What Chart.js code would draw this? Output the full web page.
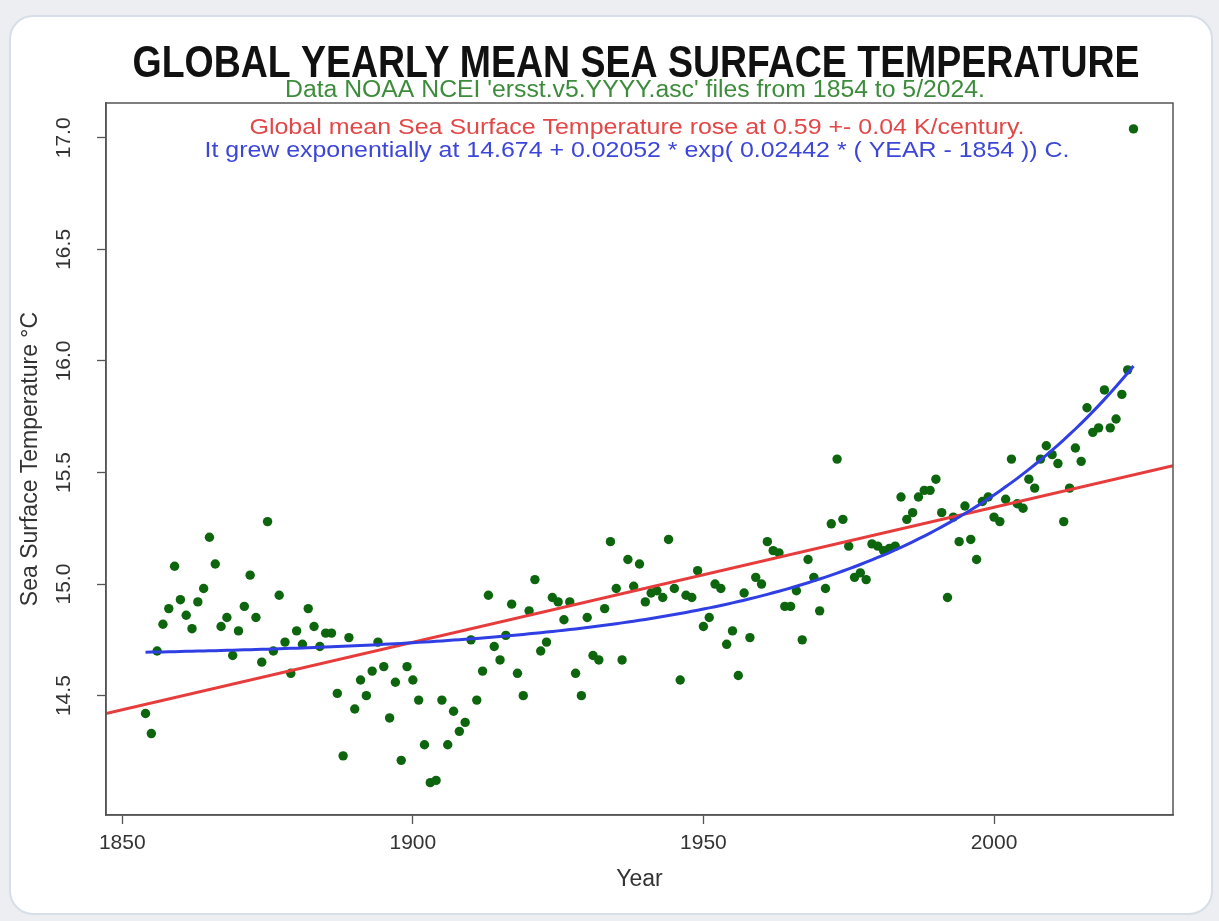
<!DOCTYPE html>
<html lang="en">
  <head>
    <meta charset="UTF-8" />
    <title>Global Yearly Mean Sea Surface Temperature</title>
    <script src="https://cdn.jsdelivr.net/npm/chart.js"></script>
    <style>
      body {
        margin: 0;
        background: #eceef1;
      }
      .card {
        position: absolute;
        left: 9px;
        top: 15px;
        width: 1200px;
        height: 896px;
        border: 2px solid #d6dee7;
        border-radius: 24px;
        background: #fff;
      }
      #wrap {
        position: absolute;
        left: 0;
        top: 0;
      }
    </style>
  </head>
  <body>
    <div class="card"></div>
    <div id="wrap"><canvas id="sst" width="1219" height="921"></canvas></div>

    <script>
      // yearly global mean SST (deg C), one value per year from 1854
      const firstYear = 1854;
      const sstValues = [
        14.42, 14.33, 14.70, 14.82, 14.89, 15.08, // 1854-1859
        14.93, 14.86, 14.80, 14.92, 14.98, 15.21, 15.09, 14.81, 14.85, 14.68, // 1860s
        14.79, 14.90, 15.04, 14.85, 14.65, 15.28, 14.70, 14.95, 14.74, 14.60, // 1870s
        14.79, 14.73, 14.89, 14.81, 14.72, 14.78, 14.78, 14.51, 14.23, 14.76, // 1880s
        14.44, 14.57, 14.50, 14.61, 14.74, 14.63, 14.40, 14.56, 14.21, 14.63, // 1890s
        14.57, 14.48, 14.28, 14.11, 14.12, 14.48, 14.28, 14.43, 14.34, 14.38, // 1900s
        14.75, 14.48, 14.61, 14.95, 14.72, 14.66, 14.77, 14.91, 14.60, 14.50, // 1910s
        14.88, 15.02, 14.70, 14.74, 14.94, 14.92, 14.84, 14.92, 14.60, 14.50, // 1920s
        14.85, 14.68, 14.66, 14.89, 15.19, 14.98, 14.66, 15.11, 14.99, 15.09, // 1930s
        14.92, 14.96, 14.97, 14.94, 15.20, 14.98, 14.57, 14.95, 14.94, 15.06, // 1940s
        14.81, 14.85, 15.00, 14.98, 14.73, 14.79, 14.59, 14.96, 14.76, 15.03, // 1950s
        15.00, 15.19, 15.15, 15.14, 14.90, 14.90, 14.97, 14.75, 15.11, 15.03, // 1960s
        14.88, 14.98, 15.27, 15.56, 15.29, 15.17, 15.03, 15.05, 15.02, 15.18, // 1970s
        15.17, 15.15, 15.16, 15.17, 15.39, 15.29, 15.32, 15.39, 15.42, 15.42, // 1980s
        15.47, 15.32, 14.94, 15.30, 15.19, 15.35, 15.20, 15.11, 15.37, 15.39, // 1990s
        15.30, 15.28, 15.38, 15.56, 15.36, 15.34, 15.47, 15.43, 15.56, 15.62, // 2000s
        15.58, 15.54, 15.28, 15.43, 15.61, 15.55, 15.79, 15.68, 15.70, 15.87, // 2010s
        15.70, 15.74, 15.85, 15.96, 17.04 // 2020-2024
      ];
      const years = sstValues.map((_, i) => firstYear + i);

      // linear trend line, end points
      const trendYears = [1847.2, 2030.8];
      const trendValues = [14.42, 15.53];

      // exponential fit constants (from the blue caption)
      const expBase = 14.674;
      const expAmp = 0.02052;
      const expRate = 0.02442;

      const xTicks = [1850, 1900, 1950, 2000];
      const yTicks = [14.5, 15.0, 15.5, 16.0, 16.5, 17.0];

      const axisFont = "'Liberation Sans', Arial, sans-serif";

      // draw a line of text squeezed/stretched to a given width
      function fitText(ctx, text, cx, baseline, width, font, color) {
        ctx.save();
        ctx.font = font;
        const w = ctx.measureText(text).width;
        ctx.translate(cx, baseline);
        ctx.scale(width / w, 1);
        ctx.fillStyle = color;
        ctx.textAlign = "center";
        ctx.textBaseline = "alphabetic";
        ctx.fillText(text, 0, 0);
        ctx.restore();
      }

      const boxAndText = {
        id: "boxAndText",
        afterDraw(chart) {
          const { ctx, chartArea: a } = chart;
          ctx.save();
          ctx.strokeStyle = "#555";
          ctx.lineWidth = 1.5;
          ctx.strokeRect(a.left, a.top, a.right - a.left, a.bottom - a.top);
          ctx.restore();

          const sans = "'Liberation Sans', Arial, sans-serif";
          fitText(ctx, "GLOBAL YEARLY MEAN SEA SURFACE TEMPERATURE", 636, 77, 1007, "bold 44px " + sans, "#111");
          fitText(ctx, "Data NOAA NCEI 'ersst.v5.YYYY.asc' files from 1854 to 5/2024.", 635, 97, 700, "23px " + sans, "#3c8c3c");
          fitText(ctx, "Global mean Sea Surface Temperature rose at 0.59 +- 0.04 K/century.", 637, 134, 775, "22px " + sans, "#e24848");
          fitText(ctx, "It grew exponentially at 14.674 + 0.02052 * exp( 0.02442 * ( YEAR - 1854 )) C.", 637, 157, 865, "22px " + sans, "#3c46d8");
        },
      };

      const ctx = document.getElementById("sst").getContext("2d");
      new Chart(ctx, {
        type: "scatter",
        data: {
          datasets: [
            {
              type: "line",
              label: "Exponential fit",
              data: years.map((x) => ({ x, y: expBase + expAmp * Math.exp(expRate * (x - firstYear)) })),
              borderColor: "#2f3fe3",
              borderWidth: 3,
              pointRadius: 0,
              tension: 0,
              order: 0,
            },
            {
              type: "line",
              label: "Linear trend",
              data: trendYears.map((x, i) => ({ x, y: trendValues[i] })),
              borderColor: "#e63c3c",
              borderWidth: 3,
              pointRadius: 0,
              order: 1,
            },
            {
              label: "SST",
              data: years.map((x, i) => ({ x, y: sstValues[i] })),
              backgroundColor: "#0d650d",
              borderWidth: 0,
              pointRadius: 4.7,
              order: 2,
            },
          ],
        },
        options: {
          responsive: false,
          animation: false,
          layout: { padding: { top: 103, right: 46, bottom: 16, left: 0 } },
          plugins: {
            legend: { display: false },
            tooltip: { enabled: false },
          },
          scales: {
            x: {
              type: "linear",
              min: 1847.2,
              max: 2030.8,
              afterBuildTicks: (s) => {
                s.ticks = xTicks.map((v) => ({ value: v }));
              },
              afterFit: (s) => {
                s.height = 90;
              },
              grid: { drawOnChartArea: false, tickLength: 9, color: "#555", tickWidth: 1.3 },
              border: { color: "#555", width: 1.5 },
              ticks: {
                callback: (v) => String(v),
                color: "#333",
                font: { family: axisFont, size: 21 },
                padding: 7,
                maxRotation: 0,
              },
              title: {
                display: true,
                text: "Year",
                color: "#333",
                font: { family: axisFont, size: 23 },
                padding: { top: 0, bottom: 12 },
              },
            },
            y: {
              min: 13.965,
              max: 17.156,
              afterBuildTicks: (s) => {
                s.ticks = yTicks.map((v) => ({ value: v }));
              },
              afterFit: (s) => {
                s.width = 106;
              },
              grid: { drawOnChartArea: false, tickLength: 9, color: "#555", tickWidth: 1.3 },
              border: { color: "#555", width: 1.5 },
              ticks: {
                callback: (v) => v.toFixed(1),
                color: "#333",
                font: { family: axisFont, size: 21 },
                minRotation: 90,
                maxRotation: 90,
                crossAlign: "center",
                padding: 12,
              },
              title: {
                display: true,
                text: "Sea Surface Temperature °C",
                color: "#333",
                font: { family: axisFont, size: 23 },
                padding: { top: 17, bottom: 0 },
              },
            },
          },
        },
        plugins: [boxAndText],
      });
    </script>
  </body>
</html>
